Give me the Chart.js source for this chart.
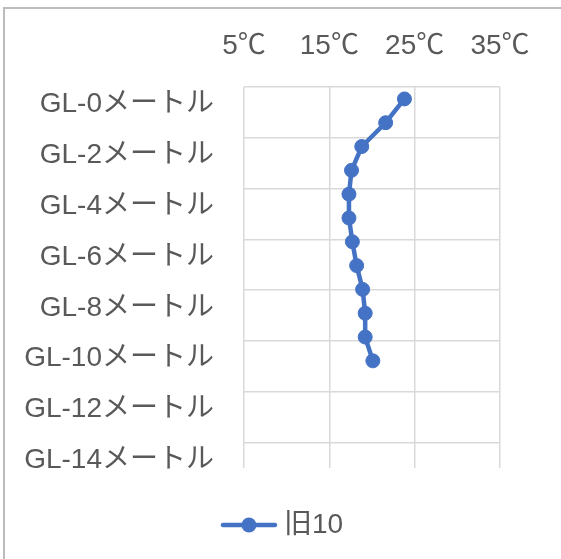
<!DOCTYPE html>
<html><head><meta charset="utf-8">
<script src="https://cdn.jsdelivr.net/npm/chart.js@4"></script>
<style>
html,body{margin:0;padding:0;width:561px;height:559px;overflow:hidden;background:#fff;}
#frame{position:absolute;left:3px;top:7px;width:700px;height:700px;border:2px solid #bcbcbc;box-sizing:border-box;}
#wrap{position:absolute;left:0;top:0;width:561px;height:559px;}
</style></head><body>
<div id="frame"></div>
<div id="wrap"><canvas id="c"></canvas></div>
<script>
const seriesName = '旧10';
// depth categories of the line series (secondary category axis, 16 slots)
const depthCategories = ['GL-0メートル','GL-1メートル','GL-2メートル','GL-3メートル','GL-4メートル','GL-5メートル','GL-6メートル','GL-7メートル','GL-8メートル','GL-9メートル','GL-10メートル','GL-11メートル','GL-12メートル','GL-13メートル','GL-14メートル','GL-15メートル'];
// visible axis categories (15 slots, every other label shown)
const axisCategories = ['GL-0メートル','GL-1メートル','GL-2メートル','GL-3メートル','GL-4メートル','GL-5メートル','GL-6メートル','GL-7メートル','GL-8メートル','GL-9メートル','GL-10メートル','GL-11メートル','GL-12メートル','GL-13メートル','GL-14メートル'];
const temperatures = [23.8, 21.6, 18.8, 17.6, 17.3, 17.3, 17.7, 18.2, 18.9, 19.2, 19.2, 20.1];
const tempTicks = [5, 15, 25, 35];

const FONT = {family: '"Liberation Sans", "Noto Sans CJK JP", sans-serif', size: 28};
const TXT = '#595959';
const BLUE = '#4472C4';
const GRID = '#d9d9d9';

// legend icon: line with a marker in the middle
const icon = document.createElement('canvas');
icon.width = 58; icon.height = 18;
(function(){
  const g = icon.getContext('2d');
  g.strokeStyle = BLUE; g.lineWidth = 4.5; g.lineCap = 'round';
  g.beginPath(); g.moveTo(3, 9); g.lineTo(55, 9); g.stroke();
  g.fillStyle = BLUE; g.beginPath(); g.arc(29, 9, 7.5, 0, Math.PI*2); g.fill();
})();

new Chart(document.getElementById('c'), {
  type: 'line',
  data: {
    labels: depthCategories,
    datasets: [{
      label: seriesName,
      data: temperatures,
      xAxisID: 'x', yAxisID: 'yDepth',
      borderColor: BLUE, backgroundColor: BLUE,
      borderWidth: 4.5, borderJoinStyle: 'round', borderCapStyle: 'round',
      pointRadius: 7, pointBorderWidth: 1,
      pointBackgroundColor: BLUE, pointBorderColor: BLUE,
      tension: 0, fill: false, clip: false
    }]
  },
  options: {
    indexAxis: 'y',
    responsive: true, maintainAspectRatio: false, animation: false,
    layout: {padding: {left: 10, right: 0, top: 0, bottom: 10}},
    scales: {
      x: {
        type: 'linear', position: 'top', min: 5, max: 35,
        afterBuildTicks: s => { s.ticks = tempTicks.map(v => ({value: v})); },
        ticks: {callback: v => v + '℃', padding: 24, font: FONT, color: TXT, maxRotation: 0},
        grid: {color: GRID, lineWidth: 1.5, drawTicks: false},
        border: {display: false},
        afterFit: s => { s.height = 87; }
      },
      yDepth: {type: 'category', axis: 'y', display: false, offset: true},
      yAxis: {
        type: 'category', axis: 'y', position: 'left', labels: axisCategories, offset: true,
        grid: {offset: true, drawTicks: false, lineWidth: 1.5,
               color: c => (c.index % 2 === 0 && c.index < axisCategories.length) ? GRID : 'rgba(0,0,0,0)'},
        border: {display: false},
        ticks: {autoSkip: false, padding: 30, labelOffset: 5, font: FONT, color: TXT,
                callback: (v, i) => (i % 2 === 0 ? axisCategories[i] : '')},
        afterFit: s => { s.width = 234; }
      },
      yRight: {
        type: 'category', axis: 'y', position: 'right', labels: axisCategories,
        grid: {display: false}, border: {display: false}, ticks: {display: false},
        afterFit: s => { s.width = 61; }
      }
    },
    plugins: {
      legend: {position: 'bottom',
        labels: {usePointStyle: true, pointStyle: icon, pointStyleWidth: 42, padding: 43, font: FONT, color: TXT}},
      tooltip: {enabled: false}
    }
  }
});
</script>
</body></html>
